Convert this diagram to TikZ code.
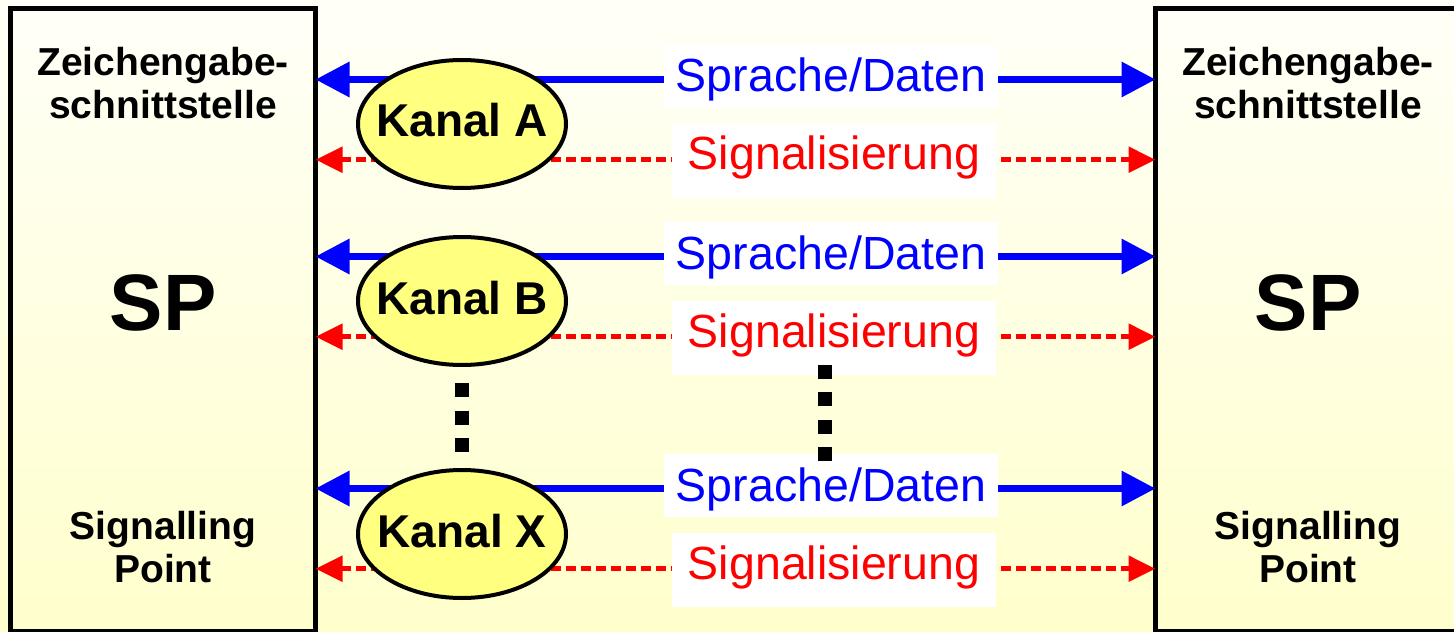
\documentclass[tikz,border=0pt]{standalone}
\usepackage{fontspec}
\setmainfont{Liberation Sans}
\usetikzlibrary{arrows.meta,shapes.geometric}
\definecolor{bgtop}{HTML}{FFFFF8}
\definecolor{bgbot}{HTML}{FFFFCC}
\definecolor{kanalfill}{HTML}{FFFF80}
\definecolor{pblue}{HTML}{0000FF}
\definecolor{pred}{HTML}{FF0000}
\begin{document}
\begin{tikzpicture}[x=1bp,y=-1bp,
  spbox/.style={draw=black,line width=5bp,minimum width=305bp,minimum height=622bp,inner sep=0pt,outer sep=0pt},
  hdr/.style={font=\fontsize{39bp}{43bp}\selectfont\bfseries,align=center,inner sep=0pt,anchor=south},
  big/.style={font=\fontsize{80bp}{90bp}\selectfont\bfseries,inner sep=0pt,anchor=base},
  kanal/.style={ellipse,draw=black,line width=4bp,fill=kanalfill,minimum width=208bp,minimum height=128bp,inner sep=0pt},
  kanaltxt/.style={font=\fontsize{46bp}{50bp}\selectfont\bfseries,inner sep=0pt,text height=33bp,text depth=7bp},
  sprlbl/.style={fill=white,text=pblue,font=\fontsize{46.5bp}{50bp}\selectfont,minimum width=334bp,inner xsep=0pt,inner ysep=6bp,
    text height=41bp,text depth=10bp,anchor=base},
  siglbl/.style={fill=white,text=pred,font=\fontsize{46.5bp}{50bp}\selectfont,minimum width=324bp,inner xsep=0pt,inner ysep=6bp,
    text height=40bp,text depth=22bp,anchor=base},
  sprarrow/.style={draw=pblue,line width=6.5bp,{Triangle[length=34bp,width=34bp]}-{Triangle[length=34bp,width=34bp]}},
  sigarrow/.style={draw=pred,line width=5.5bp,dash pattern=on 10bp off 5bp,{Triangle[length=27bp,width=25bp]}-{Triangle[length=27bp,width=25bp]}},
  dotline/.style={draw=black,line width=14bp}
]
\useasboundingbox (0,0) rectangle (1454,632);
\clip (0,0) rectangle (1454,632);
\shade[top color=bgtop,bottom color=bgbot] (0,0) rectangle (1454,632);

% boxes
\node[spbox] (L) at (163,320) {};
\node[spbox] (R) at (1308,320) {};

% arrows
\foreach \dy/\nm in {0/A,177/B,409/X}{
  \draw[sprarrow] (L.east |- 0,79.5+\dy) -- (R.west |- 0,79.5+\dy);
  \draw[sigarrow] (L.east |- 0,159.7+\dy) -- (R.west |- 0,159.7+\dy);
  \node[sprlbl] (spr\nm) at (831,92+\dy) {Sprache/Daten};
  \node[siglbl] (sig\nm) at (834,170+\dy) {Signalisierung};
}

% channels
\node[kanal,label={[kanaltxt,name=tA]center:Kanal A}] (kA) at (462,124) {};
\node[kanal,label={[kanaltxt,name=tB]center:Kanal B}] (kB) at (462,301) {};
\node[kanal,label={[kanaltxt,name=tX]center:Kanal X}] (kX) at (462,534) {};

% dots
\draw[dotline,dash pattern=on 14bp off 13.5bp,shorten <=16bp,shorten >=16.5bp] (kB.south) -- (kX.north);
\coordinate (d1) at (825,365);
\coordinate (d2) at (825,461);
\draw[dotline,dash pattern=on 14bp off 13.33bp] (d1) -- (d2);

% texts
\node[hdr] (Lz) at (163,119) {Zeichengabe-\\schnittstelle};
\node[hdr] (Rz) at (1308,119) {Zeichengabe-\\schnittstelle};
\node[big] (Lsp) at (163,330) {SP};
\node[big] (Rsp) at (1308,330) {SP};
\node[hdr] (Ls) at (163,583) {Signalling\\Point};
\node[hdr] (Rs) at (1308,583) {Signalling\\Point};
\end{tikzpicture}
\end{document}
